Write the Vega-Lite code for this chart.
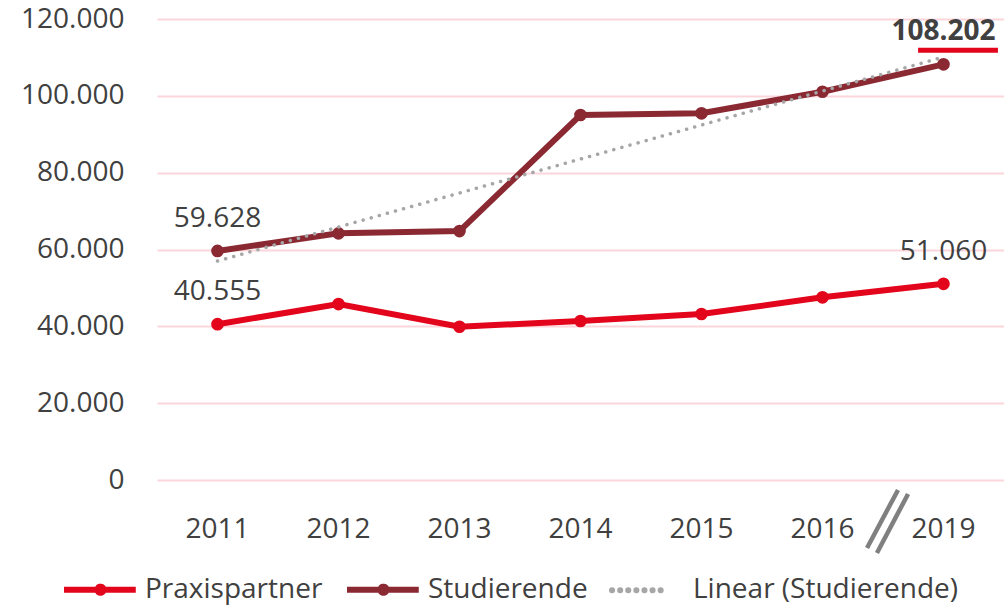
{
  "$schema": "https://vega.github.io/schema/vega-lite/v6.json",
  "width": 847,
  "height": 461,
  "autosize": {"type": "none"},
  "padding": {"left": 157, "top": 19, "right": 0, "bottom": 126},
  "background": "white",
  "config": {
    "font": "Open Sans",
    "view": {"stroke": null},
    "locale": {"number": {"decimal": ",", "thousands": ".", "grouping": [3], "currency": ["", " €"]}}
  },
  "data": {
    "values": [
      {"year": "2011", "series": "Praxispartner", "value": 40555, "label": "40.555", "bold": false},
      {"year": "2012", "series": "Praxispartner", "value": 45800, "label": null, "bold": false},
      {"year": "2013", "series": "Praxispartner", "value": 39900, "label": null, "bold": false},
      {"year": "2014", "series": "Praxispartner", "value": 41400, "label": null, "bold": false},
      {"year": "2015", "series": "Praxispartner", "value": 43200, "label": null, "bold": false},
      {"year": "2016", "series": "Praxispartner", "value": 47550, "label": null, "bold": false},
      {"year": "2019", "series": "Praxispartner", "value": 51060, "label": "51.060", "bold": false},
      {"year": "2011", "series": "Studierende", "value": 59628, "label": "59.628", "bold": false},
      {"year": "2012", "series": "Studierende", "value": 64200, "label": null, "bold": false},
      {"year": "2013", "series": "Studierende", "value": 64800, "label": null, "bold": false},
      {"year": "2014", "series": "Studierende", "value": 95000, "label": null, "bold": false},
      {"year": "2015", "series": "Studierende", "value": 95450, "label": null, "bold": false},
      {"year": "2016", "series": "Studierende", "value": 101070, "label": null, "bold": false},
      {"year": "2019", "series": "Studierende", "value": 108202, "label": "108.202", "bold": true},
      {"year": "2011", "series": "Linear (Studierende)", "value": 57000, "label": null, "bold": false},
      {"year": "2019", "series": "Linear (Studierende)", "value": 110100, "label": null, "bold": false}
    ]
  },
  "encoding": {
    "x": {
      "field": "year",
      "type": "ordinal",
      "bandPosition": 0.5,
      "scale": {"type": "band", "paddingInner": 0, "paddingOuter": 0, "domain": ["2011", "2012", "2013", "2014", "2015", "2016", "2019"]},
      "axis": {
        "title": null,
        "domain": false,
        "ticks": false,
        "tickSize": 0,
        "grid": false,
        "labelAngle": 0,
        "labelPadding": 57,
        "labelBaseline": "alphabetic",
        "labelFontSize": 28,
        "labelColor": "#404040"
      }
    },
    "y": {
      "field": "value",
      "type": "quantitative",
      "scale": {"domain": [0, 120000], "nice": false},
      "axis": {
        "title": null,
        "domain": false,
        "ticks": false,
        "tickSize": 0,
        "values": [0, 20000, 40000, 60000, 80000, 100000, 120000],
        "format": ",d",
        "grid": true,
        "gridColor": "#fcd6da",
        "gridWidth": 2,
        "labelPadding": 33,
        "labelFontSize": 28,
        "labelColor": "#404040"
      }
    }
  },
  "layer": [
    {
      "transform": [{"filter": "datum.series !== 'Linear (Studierende)'"}],
      "mark": {"type": "line", "strokeWidth": 6, "point": {"filled": true, "size": 160, "opacity": 1}},
      "encoding": {
        "color": {
          "field": "series",
          "type": "nominal",
          "scale": {"domain": ["Praxispartner", "Studierende", "Linear (Studierende)"], "range": ["#e3051b", "#8b2933", "#a6a6a6"]},
          "legend": {
            "title": null,
            "orient": "none",
            "legendX": -72,
            "legendY": 555,
            "direction": "horizontal",
            "padding": 0,
            "labelFontSize": 28,
            "labelColor": "#404040",
            "labelLimit": 0,
            "labelOffset": 29,
            "columnPadding": 12,
            "symbolSize": 592,
            "symbolStrokeWidth": 6,
            "symbolType": "stroke",
            "symbolOpacity": 1,
            "encode": {
              "symbols": {
                "update": {
                  "shape": {"signal": "datum.value === 'Linear (Studierende)' ? 'M-3,0L1.5,0' : 'M-3,0L2.9,0M-0.25,0A0.25,0.25,0,1,1,0.25,0A0.25,0.25,0,1,1,-0.25,0Z'"},
                  "fill": {"signal": "datum.value === 'Linear (Studierende)' ? 'transparent' : scale('color', datum.value)"},
                  "stroke": {"signal": "scale('color', datum.value)"},
                  "strokeDash": {"signal": "datum.value === 'Linear (Studierende)' ? [0.1, 8] : [1, 0]"},
                  "strokeCap": {"signal": "datum.value === 'Linear (Studierende)' ? 'round' : 'butt'"},
                  "opacity": {"value": 1}
                }
              }
            }
          }
        }
      }
    },
    {
      "transform": [{"filter": "datum.series === 'Linear (Studierende)'"}],
      "mark": {"type": "line", "strokeWidth": 3.5, "strokeCap": "round", "strokeDash": [0.1, 8.3]},
      "encoding": {
        "color": {"field": "series", "type": "nominal"}
      }
    },
    {
      "transform": [{"filter": "datum.label != null && !datum.bold"}],
      "mark": {"type": "text", "baseline": "alphabetic", "align": "center", "dy": -24, "fontSize": 28, "color": "#404040"},
      "encoding": {"text": {"field": "label"}}
    },
    {
      "transform": [{"filter": "datum.label != null && datum.bold"}],
      "mark": {"type": "text", "baseline": "alphabetic", "align": "center", "dy": -24, "fontSize": 28, "fontWeight": "bold", "color": "#404040"},
      "encoding": {"text": {"field": "label"}}
    },
    {
      "transform": [{"filter": "datum.bold"}],
      "mark": {"type": "rule", "color": "#e3051b", "strokeWidth": 5, "yOffset": -14},
      "encoding": {
        "x": {"field": "year", "type": "ordinal", "bandPosition": 0.29},
        "x2": {"field": "year", "bandPosition": 0.95}
      }
    },
    {
      "data": {"values": [{"from": "2016", "to": "2019", "low": -17700, "high": -2600}]},
      "mark": {"type": "rule", "color": "#808080", "strokeWidth": 4.5, "clip": false},
      "encoding": {
        "x": {"field": "from", "type": "ordinal", "bandPosition": 0.868},
        "x2": {"field": "to", "bandPosition": 0.124},
        "y": {"field": "low", "type": "quantitative"},
        "y2": {"field": "high"}
      }
    },
    {
      "data": {"values": [{"from": "2016", "to": "2019", "low": -19000, "high": -3650}]},
      "mark": {"type": "rule", "color": "#808080", "strokeWidth": 4.5, "clip": false},
      "encoding": {
        "x": {"field": "from", "type": "ordinal", "bandPosition": 0.95},
        "x2": {"field": "to", "bandPosition": 0.207},
        "y": {"field": "low", "type": "quantitative"},
        "y2": {"field": "high"}
      }
    }
  ]
}
